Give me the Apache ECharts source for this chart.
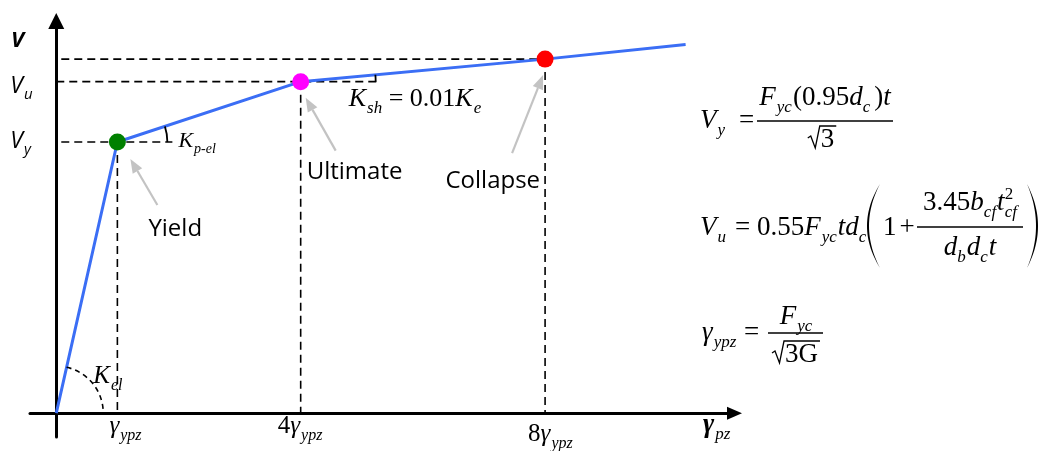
<!DOCTYPE html>
<html>
<head>
<meta charset="utf-8">
<script src="https://cdn.jsdelivr.net/npm/echarts@6/dist/echarts.min.js"></script>
<style>
  html, body { margin: 0; padding: 0; background: #fff; }
  #chart { width: 1040px; height: 451px; }
</style>
</head>
<body>
<div id="chart"></div>
<script>
// Trilinear backbone of the panel-zone shear response: V against γpz.
const stateNames      = ['Yield', 'Ultimate', 'Collapse'];
const stateGamma      = [1, 4, 8];              // γpz in multiples of γypz
const stateShear      = [0.818, 1.0, 1.068];    // V relative to Vu
const curveGamma      = [0, 1, 4, 8, 10.3];
const curveShear      = [0, 0.818, 1.0, 1.068, 1.112];
const xTickLabels     = ['γypz', '4γypz', '8γypz'];
const yTickLabels     = ['Vy', 'Vu', ''];
const stiffnessLabels = ['Kel', 'Kp-el', 'Ksh = 0.01Ke'];

// ---------- look ----------
const BLUE = '#3b6ef5';
const STATE_COLORS = ['#008000', '#ff00ff', '#ff0000'];
const POINTER_GREY = '#c3c3c3';
const SERIF = '"Liberation Serif", "Times New Roman", serif';
const SANS = '"Open Sans", "Noto Sans", sans-serif';

// axis ranges (the axes cross at the origin and run a little past it)
const X_MIN = -0.43, X_MAX = 11.1, Y_MIN = -0.072, Y_MAX = 1.183;

// per-state guide lines and tick-label placement (pixels)
const GUIDE_CFG = [
  { gap: 5, ext: 55, xLabel: [-8, 20], yLabel: [-46, 6] },
  { gap: 0, ext: 77, xLabel: [-23, 20], yLabel: [-46, 11] },
  { gap: 5, ext: 0,  xLabel: [-17, 28], yLabel: null }
];
// per-state pointer arrow and caption placement (pixels, from the point)
const NOTE_CFG = [
  { tail: [40, 63], tip: [13, 17], label: [31, 94], align: 'left' },
  { tail: [35, 69], tip: [5, 16],  label: [6, 97],  align: 'left' },
  { tail: [-33, 94], tip: [-2, 16], label: [-5, 129], align: 'right' }
];
// per-segment stiffness arc and label placement
const SLOPE_CFG = [
  { r: 47, dashed: true,  label: [37, -30], size: 25 },
  { r: 50, dashed: false, label: [61, 5],   size: 22 },
  { r: 75, dashed: false, label: [48, 24],  size: 26 }
];

// ---------- text helpers ----------
const mctx = document.createElement('canvas').getContext('2d');
function textWidth(text, font) { mctx.font = font; return mctx.measureText(text).width; }
const shiftCache = {};
function midShift(font) {
  if (shiftCache[font] != null) return shiftCache[font];
  mctx.font = font;
  mctx.textBaseline = 'alphabetic';
  const a = mctx.measureText('H').actualBoundingBoxAscent;
  mctx.textBaseline = 'middle';
  const b = mctx.measureText('H').actualBoundingBoxAscent;
  mctx.textBaseline = 'alphabetic';
  return (shiftCache[font] = a - b);
}
function textEl(text, x, base, font, align) {
  return {
    type: 'text', x: x, y: base - midShift(font), silent: true,
    style: { text: text, font: font, fill: '#000', textAlign: align || 'left', textVerticalAlign: 'middle' }
  };
}
function mathStyles(size, family) {
  const sub = Math.round(size * 0.64);
  return {
    i: { font: `italic ${size}px ${family}`, dy: 0 },
    r: { font: `${size}px ${family}`, dy: 0 },
    b: { font: `bold italic ${size}px ${family}`, dy: 0 },
    s: { font: `italic ${sub}px ${family}`, dy: Math.round(size * 0.26) },
    p: { font: `${sub}px ${family}`, dy: -Math.round(size * 0.42) }
  };
}
// lays runs [text, styleKey, opts] left to right on a baseline
function layoutRow(runs, st, x, base) {
  const els = [];
  let cx = x, lastStart = x;
  runs.forEach(function (run) {
    const text = run[0], s = st[run[1]], opt = run[2] || {};
    const w = textWidth(text, s.font);
    const sx = opt.stack ? lastStart : cx;
    if (text.trim()) els.push(textEl(text, sx, base + s.dy, s.font));
    if (opt.stack) {
      cx = Math.max(cx, sx + w);
    } else {
      lastStart = sx;
      cx = sx + w + (opt.gap || 0);
    }
  });
  return { els: els, width: cx - x };
}
function symbolLabel(label, x, base, st) {
  const m = label.match(/^(\d*)(\D)(.*)$/);
  const runs = [];
  if (m[1]) runs.push([m[1], 'r']);
  runs.push([m[2], 'i', { gap: 1 }]);
  if (m[3]) runs.push([m[3], 's']);
  return layoutRow(runs, st, x, base).els;
}
function stiffnessRuns(label) {
  const runs = [];
  label.replace(/K([a-z\-]*)|[^K]+/g, function (tok, sub) {
    if (tok[0] === 'K') { runs.push(['K', 'i', { gap: 1 }]); if (sub) runs.push([sub, 's']); }
    else runs.push([tok, 'r']);
    return tok;
  });
  return runs;
}

// ---------- series renderers ----------
const DASH = { stroke: '#000', lineWidth: 1.6, lineDash: [8, 5], fill: 'none' };
const X_TICK_ST = mathStyles(25, SERIF);
const Y_TICK_ST = mathStyles(23, SANS);

function renderGuides(params, api) {
  const i = api.value(2);
  const p = api.coord([api.value(0), api.value(1)]);
  const o = api.coord([0, 0]);
  const c = GUIDE_CFG[i];
  const children = [
    { type: 'line', shape: { x1: p[0], y1: p[1], x2: p[0], y2: o[1] }, style: DASH },
    { type: 'line', shape: { x1: o[0] + c.gap, y1: p[1], x2: p[0] + c.ext, y2: p[1] }, style: DASH }
  ];
  children.push.apply(children, symbolLabel(xTickLabels[i], p[0] + c.xLabel[0], o[1] + c.xLabel[1], X_TICK_ST));
  if (yTickLabels[i] && c.yLabel) {
    children.push.apply(children, symbolLabel(yTickLabels[i], o[0] + c.yLabel[0], p[1] + c.yLabel[1], Y_TICK_ST));
  }
  return { type: 'group', children: children };
}

function pointer(tail, tip) {
  const dx = tip[0] - tail[0], dy = tip[1] - tail[1];
  const len = Math.sqrt(dx * dx + dy * dy);
  const ux = dx / len, uy = dy / len, nx = -uy, ny = ux;
  const hl = 14, hw = 5.5;
  const bx = tip[0] - ux * hl, by = tip[1] - uy * hl;
  return [
    { type: 'line', shape: { x1: tail[0], y1: tail[1], x2: bx, y2: by },
      style: { stroke: POINTER_GREY, lineWidth: 2.2 } },
    { type: 'polygon', shape: { points: [tip, [bx + nx * hw, by + ny * hw], [bx - nx * hw, by - ny * hw]] },
      style: { fill: POINTER_GREY } }
  ];
}

const NAME_FONT = `24px ${SANS}`;
function renderNotes(params, api) {
  const i = api.value(2);
  const p = api.coord([api.value(0), api.value(1)]);
  const n = NOTE_CFG[i];
  const children = pointer([p[0] + n.tail[0], p[1] + n.tail[1]], [p[0] + n.tip[0], p[1] + n.tip[1]]);
  children.push(textEl(stateNames[i], p[0] + n.label[0], p[1] + n.label[1], NAME_FONT, n.align));
  return { type: 'group', children: children };
}

function renderSlopes(params, api) {
  const k = api.value(4);
  const a = api.coord([api.value(0), api.value(1)]);
  const b = api.coord([api.value(2), api.value(3)]);
  const c = SLOPE_CFG[k];
  const ang = Math.atan2(b[1] - a[1], b[0] - a[0]);
  const children = [{
    type: 'arc',
    shape: { cx: a[0], cy: a[1], r: c.r, startAngle: ang, endAngle: 0, clockwise: true },
    style: c.dashed ? { stroke: '#000', lineWidth: 1.6, lineDash: [5, 4], fill: 'none' }
                    : { stroke: '#000', lineWidth: 1.8, fill: 'none' }
  }];
  const st = mathStyles(c.size, SERIF);
  children.push.apply(children, layoutRow(stiffnessRuns(stiffnessLabels[k]), st, a[0] + c.label[0], a[1] + c.label[1]).els);
  return { type: 'group', children: children };
}

// ---------- strength and yield-strain formulas ----------
const M = mathStyles(27, SERIF);
const formula = [];
function put(runs, x, base) { const r = layoutRow(runs, M, x, base); formula.push.apply(formula, r.els); return r.width; }
function putCentered(runs, cx, base) { const w = layoutRow(runs, M, 0, 0).width; put(runs, cx - w / 2, base); }
function fracBar(x1, x2, y) {
  formula.push({ type: 'line', silent: true, shape: { x1: x1, y1: y, x2: x2, y2: y }, style: { stroke: '#000', lineWidth: 1.3 } });
}
function radical(runs, cx, base) {
  const inner = layoutRow(runs, M, 0, 0).width;
  const lead = 13, total = lead + inner + 2;
  const x = cx - total / 2, top = base - 21;
  formula.push({
    type: 'polyline', silent: true,
    shape: { points: [[x, base - 9], [x + 3, base - 11], [x + 7.5, base + 1], [x + lead - 1, top], [x + total, top]] },
    style: { stroke: '#000', lineWidth: 1.3, fill: 'none' }
  });
  put(runs, x + lead, base);
}
function paren(xEnd, xApex, yTop, yBot) {
  const s = xApex < xEnd ? -1 : 1;
  const co = 2 * xApex - xEnd, ci = co - s * 4;
  const ym = (yTop + yBot) / 2, pts = [], back = [];
  for (let j = 0; j <= 30; j++) {
    const t = j / 30, u = 1 - t;
    const y = u * u * yTop + 2 * t * u * ym + t * t * yBot;
    pts.push([u * u * xEnd + 2 * t * u * co + t * t * xEnd, y]);
    back.unshift([u * u * xEnd + 2 * t * u * ci + t * t * xEnd, y]);
  }
  formula.push({ type: 'polygon', silent: true, shape: { points: pts.concat(back) }, style: { fill: '#000' } });
}

// Vy = Fyc(0.95dc)t / √3
put([['V', 'i', { gap: 1 }], ['y', 's']], 700, 128);
put([['=', 'r']], 739, 128);
fracBar(757, 893, 121);
putCentered([['F', 'i', { gap: 1 }], ['yc', 's', { gap: 1 }], ['(0.95', 'r'], ['d', 'i'], ['c', 's', { gap: 4 }], [')', 'r'], ['t', 'i']], 825, 105);
radical([['3', 'r']], 822, 147);

// Vu = 0.55Fyc t dc (1 + 3.45 bcf tcf² / (db dc t))
put([['V', 'i', { gap: 1 }], ['u', 's']], 700, 235);
put([['=', 'r']], 735, 235);
put([['0.55', 'r'], ['F', 'i', { gap: 1 }], ['yc', 's', { gap: 1 }], ['t', 'i'], ['d', 'i'], ['c', 's']], 757, 235);
paren(880, 867, 184, 268);
put([['1', 'r', { gap: 3 }], ['+', 'r']], 883, 235);
fracBar(917, 1023, 227);
putCentered([['3.45', 'r'], ['b', 'i'], ['cf', 's', { gap: 1 }], ['t', 'i'], ['cf', 's'], ['2', 'p', { stack: true }]], 970, 210);
putCentered([['d', 'i'], ['b', 's', { gap: 1 }], ['d', 'i'], ['c', 's', { gap: 1 }], ['t', 'i']], 970, 255);
paren(1027, 1038, 184, 268);

// γypz = Fyc / (√3 G)
put([['γ', 'i', { gap: 1 }], ['ypz', 's']], 702, 340);
put([['=', 'r']], 744, 340);
fracBar(768, 823, 333);
putCentered([['F', 'i', { gap: 1 }], ['yc', 's']], 796, 324);
radical([['3', 'r'], ['G', 'r']], 796, 362);

// axis names
formula.push(textEl('V', 11, 47, `bold italic 22px ${SANS}`));
formula.push.apply(formula, layoutRow([['γ', 'b', { gap: 1 }], ['pz', 's']], mathStyles(27, SERIF), 703, 432).els);

// ---------- chart ----------
const stateData = stateGamma.map(function (g, i) { return [g, stateShear[i], i]; });
const curveData = curveGamma.map(function (g, i) { return [g, curveShear[i]]; });
const segmentData = stiffnessLabels.map(function (_, k) {
  return [curveGamma[k], curveShear[k], curveGamma[k + 1], curveShear[k + 1], k];
});

const axisCommon = {
  type: 'value',
  axisTick: { show: false },
  axisLabel: { show: false },
  splitLine: { show: false }
};

const chart = echarts.init(document.getElementById('chart'));
chart.setOption({
  animation: false,
  backgroundColor: '#fff',
  grid: { left: 30, right: 305.5, top: 21, bottom: 14, containLabel: false },
  xAxis: Object.assign({}, axisCommon, {
    min: X_MIN, max: X_MAX,
    axisLine: { show: true, onZero: true, symbol: ['none', 'triangle'], symbolSize: [13, 15],
      lineStyle: { color: '#000', width: 3 } }
  }),
  yAxis: Object.assign({}, axisCommon, {
    min: Y_MIN, max: Y_MAX,
    axisLine: { show: true, onZero: true, symbol: ['none', 'triangle'], symbolSize: [16, 16],
      lineStyle: { color: '#000', width: 3 } }
  }),
  series: [
    { type: 'custom', name: 'guides', data: stateData, encode: { x: 0, y: 1 },
      renderItem: renderGuides, silent: true, z: 2 },
    { type: 'line', name: 'backbone', data: curveData, showSymbol: false, silent: true,
      lineStyle: { color: BLUE, width: 3 }, z: 3 },
    { type: 'scatter', name: 'states', data: stateData.map(function (d) { return [d[0], d[1]]; }),
      symbolSize: 17, silent: true, z: 4,
      itemStyle: { opacity: 1, color: function (p) { return STATE_COLORS[p.dataIndex]; } } },
    { type: 'custom', name: 'stiffness', data: segmentData, encode: { x: 0, y: 1 },
      renderItem: renderSlopes, silent: true, z: 5 },
    { type: 'custom', name: 'notes', data: stateData, encode: { x: 0, y: 1 },
      renderItem: renderNotes, silent: true, z: 5 }
  ],
  graphic: { elements: formula }
});
</script>
</body>
</html>
